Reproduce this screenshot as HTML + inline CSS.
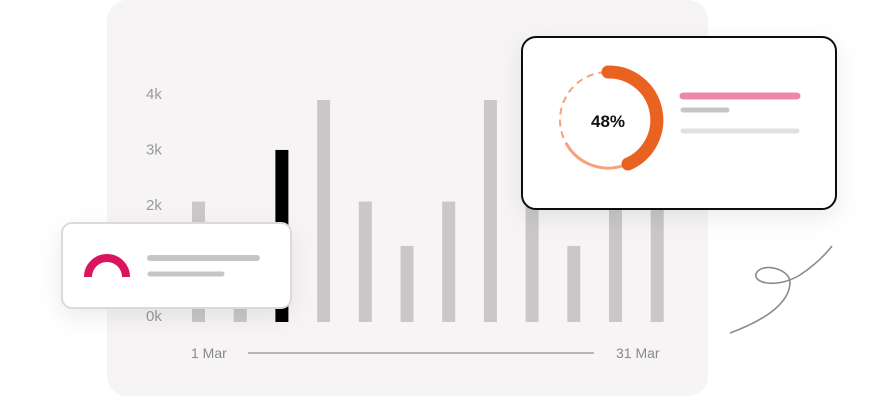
<!DOCTYPE html>
<html><head><meta charset="utf-8"><style>
body{margin:0;width:882px;height:400px;background:#fff;overflow:hidden;font-family:"Liberation Sans",sans-serif}
svg{position:absolute;left:0;top:0}
</style></head><body>
<svg width="882" height="400">
<defs>
<filter id="sh" x="-30%" y="-30%" width="160%" height="180%"><feDropShadow dx="0" dy="8" stdDeviation="12" flood-color="#000" flood-opacity="0.08"/></filter>
</defs>
<rect x="107" y="0" width="601" height="396" rx="20" fill="#f6f4f5"/>
<g id="ticks"></g>
<g id="bars"></g>
<text x="191" y="358" font-size="14" fill="#8a8a8a">1 Mar</text>
<line x1="248" y1="353" x2="594" y2="353" stroke="#777" stroke-width="1"/>
<text x="616" y="358" font-size="14" fill="#8a8a8a">31 Mar</text>

<g filter="url(#sh)">
<rect x="62" y="223" width="229" height="85" rx="10" fill="#fff" stroke="#dcd8db" stroke-width="2"/>
</g>
<path d="M88 277 A19 19 0 0 1 126 277" fill="none" stroke="#dc135e" stroke-width="8"/>
<line x1="150" y1="258" x2="257" y2="258" stroke="#c6c6c6" stroke-width="6" stroke-linecap="round"/>
<line x1="150" y1="274" x2="222" y2="274" stroke="#c6c6c6" stroke-width="5" stroke-linecap="round"/>

<g filter="url(#sh)">
<rect x="522" y="37" width="314" height="172" rx="14" fill="#fff" stroke="#111" stroke-width="2"/>
</g>
<circle cx="608" cy="120" r="48" fill="none" stroke="#f6a27c" stroke-width="2" stroke-dasharray="7 5"/>
<path d="M566 143 A48 48 0 0 0 625 165" fill="none" stroke="#f6a27c" stroke-width="3"/>
<path d="M608 72 A48 48 0 0 1 628 164" fill="none" stroke="#ea6220" stroke-width="13" stroke-linecap="round"/>
<text x="608" y="127" font-size="17" font-weight="bold" fill="#111" text-anchor="middle">48%</text>
<line x1="683" y1="96" x2="797" y2="96" stroke="#ec88ac" stroke-width="7" stroke-linecap="round"/>
<line x1="683" y1="110" x2="727" y2="110" stroke="#c6c6c6" stroke-width="5" stroke-linecap="round"/>
<line x1="683" y1="131" x2="797" y2="131" stroke="#e2e0e4" stroke-width="5" stroke-linecap="round"/>

<path d="M730 333 C760 322 790 305 790 282 C790 270 765 262 757 272 C750 282 775 290 800 275 C815 265 825 255 832 246" fill="none" stroke="#8a8a8a" stroke-width="1.6"/>
</svg>
<script>
const categories=["d1","d2","d3","d4","d5","d6","d7","d8","d9","d10","d11","d12"];
const values=[2.17,1.6,3.1,4,2.17,1.37,2.17,4,2.6,1.37,2.6,2.6];
const highlight=[false,false,true,false,false,false,false,false,false,false,false,false];
const tickValues=[0,2,3,4];
const tickLabels=["0k","2k","3k","4k"];
const NS="http://www.w3.org/2000/svg";
function y(v){return 322-v*55.5;}
function x(i){return 198+i*41.7;}
const bg=document.getElementById('bars');
values.forEach((v,i)=>{
 const r=document.createElementNS(NS,'rect');
 r.setAttribute('x',x(i)-6);r.setAttribute('y',y(v));
 r.setAttribute('width',13);r.setAttribute('height',322-y(v));
 r.setAttribute('fill',highlight[i]?'#000':'#c9c7c8');
 
 
 bg.appendChild(r);
});
const tg=document.getElementById('ticks');
tickValues.forEach((v,i)=>{
 const t=document.createElementNS(NS,'text');
 t.setAttribute('x',146);t.setAttribute('y',(v===0?316:y(v)-6)+5);
 t.setAttribute('font-size','15');t.setAttribute('fill','#9a9a9a');
 t.textContent=tickLabels[i];
 
 
 tg.appendChild(t);
});
</script>
</body></html>
